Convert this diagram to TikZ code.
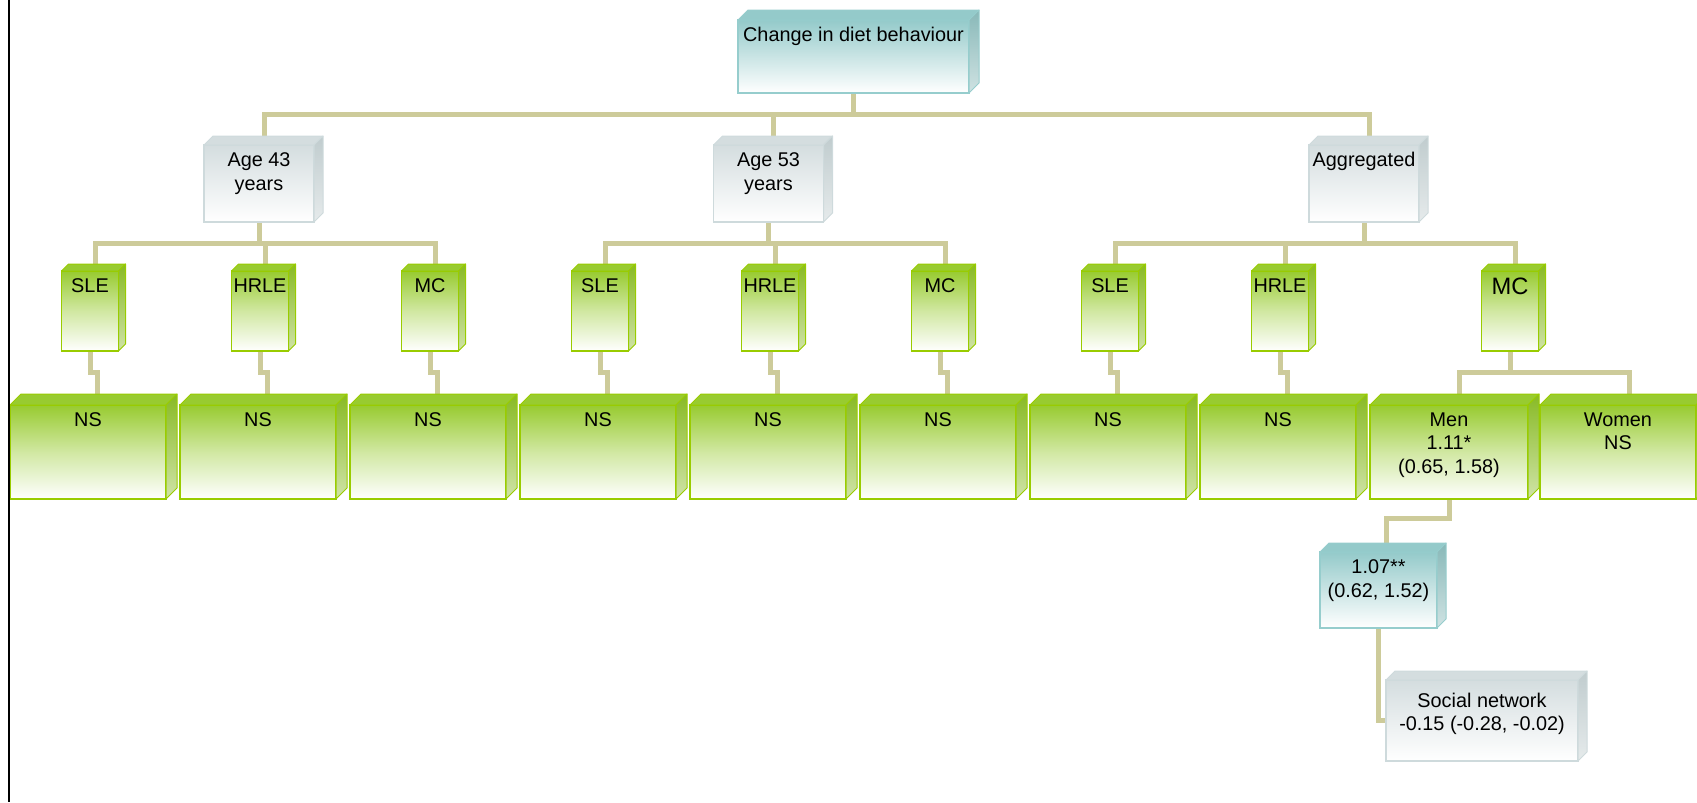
\documentclass[tikz,border=0pt]{standalone}
\usepackage{fontspec}
\setmainfont{Liberation Sans}
\usetikzlibrary{calc,backgrounds}

\definecolor{linktan}{RGB}{205,203,154}
\definecolor{edgeg}{RGB}{153,204,0}
\definecolor{fillg}{RGB}{152,203,48}
\definecolor{sideg}{RGB}{136,186,36}
\definecolor{edges}{RGB}{206,218,220}
\definecolor{fills}{RGB}{212,221,223}
\definecolor{sides}{RGB}{192,204,206}
\definecolor{edget}{RGB}{150,205,205}
\definecolor{fillt}{RGB}{148,202,202}
\definecolor{sidet}{RGB}{136,184,184}

\tikzset{
  box/.style 2 args={minimum width=#1*0.02cm, minimum height=#2*0.02cm, inner sep=0pt, outer sep=0pt, line width=0.035cm},
  greenbox/.style={draw=edgeg, top color=fillg, bottom color=white, middle color=fillg!45!white},
  greybox/.style={draw=edges, top color=fills, bottom color=white, middle color=fills!50!white},
  tealbox/.style={draw=edget, top color=fillt, bottom color=white, middle color=fillt!50!white},
  txt/.style={anchor=north, align=center, inner xsep=1pt, inner ysep=4pt, font=\fontsize{11.3}{13.6}\selectfont},
  link/.style={linktan, line width=0.1cm},
}

\begin{document}
\begin{tikzpicture}[x=0.02cm,y=-0.02cm]
  \useasboundingbox (0,0) rectangle (1697,802);

  % level 0 and 1
  \node[box={231}{73}, tealbox, label={[txt]north:Change in diet behaviour}] (change) at (853.5,56.5) {};
  \node[box={110}{77}, greybox, label={[txt]north:{Age 43\\years}}] (age43) at (259,183.5) {};
  \node[box={110}{77}, greybox, label={[txt]north:{Age 53\\years}}] (age53) at (768.5,183.5) {};
  \node[box={110}{77}, greybox, label={[txt]north:Aggregated}] (aggr) at (1364,183.5) {};

  % life events
  \foreach \nm/\x/\t in {sle1/90/SLE, hrle1/260/HRLE, mc1/430/MC, sle2/600/SLE, hrle2/770/HRLE, mc2/940/MC, sle3/1110/SLE, hrle3/1280/HRLE}
    \node[box={57}{80}, greenbox, label={[txt]north:\t}] (\nm) at (\x,311) {};
  \node[box={57}{80}, greenbox, label={[txt, font=\fontsize{13.5}{16}\selectfont]north:MC}] (mc3) at (1510,311) {};

  % results
  \foreach \i/\x in {1/88, 2/258, 3/428, 4/598, 5/768, 6/938, 7/1108, 8/1278}
    \node[box={156}{94}, greenbox, label={[txt]north:NS}] (ns\i) at (\x,452) {};
  \node[box={158}{94}, greenbox, label={[txt]north:{Men\\1.11*\\(0.65, 1.58)}}] (men) at (1449,452) {};
  \node[box={156}{94}, greenbox, label={[txt]north:{Women\\NS}}] (women) at (1618,452) {};
  \node[box={117}{76}, tealbox, label={[txt]north:{1.07**\\(0.62, 1.52)}}] (b107) at (1378.5,590) {};
  \node[box={192}{81}, greybox, label={[txt, yshift=-3pt]north:{Social network\\-0.15 (-0.28, -0.02)}}] (social) at (1482,720.5) {};

  % 3d edges
  \foreach \nm/\dep/\col in {change/10/t, b107/9/t, age43/9/s, age53/9/s, aggr/9/s, social/9/s,
      sle1/7/g, hrle1/7/g, mc1/7/g, sle2/7/g, hrle2/7/g, mc2/7/g, sle3/7/g, hrle3/7/g, mc3/7/g,
      ns1/11/g, ns2/11/g, ns3/11/g, ns4/11/g, ns5/11/g, ns6/11/g, ns7/11/g, ns8/11/g, men/11/g, women/11/g}{
    \filldraw[draw=edge\col, fill=fill\col, line width=0.02cm, line join=round]
      (\nm.north west) -- ++(\dep,-\dep) -- ($(\nm.north east)+(\dep,-\dep)$) -- (\nm.north east) -- cycle;
    \shadedraw[draw=edge\col, top color=side\col, bottom color=side\col!40!white, line width=0.02cm, line join=round]
      (\nm.north east) -- ++(\dep,-\dep) -- ($(\nm.south east)+(\dep,-\dep)$) -- (\nm.south east) -- cycle;
  }

  % connectors
  \begin{scope}[on background layer]
    \draw[link] (change.south) -- ++(0,21) coordinate (j0);
    \draw[link] ($(age43.north)+(5,0)$) |- (j0) -| ($(aggr.north)+(5,0)$);
    \draw[link] ($(age53.north)+(5,0)$) |- (j0);
    \foreach \g/\a/\b/\c in {age43/sle1/hrle1/mc1, age53/sle2/hrle2/mc2, aggr/sle3/hrle3/mc3}{
      \draw[link] (\g.south) -- ++(0,21) coordinate (j\g);
      \draw[link] ($(\a.north)+(5,0)$) |- (j\g) -| ($(\c.north)+(5,0)$);
      \draw[link] ($(\b.north)+(5,0)$) |- (j\g);
    }
    \foreach \s/\t in {sle1/ns1, hrle1/ns2, mc1/ns3, sle2/ns4, hrle2/ns5, mc2/ns6, sle3/ns7, hrle3/ns8}
      \draw[link] (\s.south) -- ++(0,21) -| ($(\t.north)+(9,0)$);
    \draw[link] (mc3.south) -- ++(0,21) coordinate (j4);
    \draw[link] ($(men.north)+(10,0)$) |- (j4) -| ($(women.north)+(11,0)$);
    \draw[link] (men.south) -- ++(0,19) -| ($(b107.north)+(8,0)$);
    \draw[link] (b107.south) |- (social.west);
  \end{scope}

  \draw[line width=0.05cm] (9,0) -- (9,802);
\end{tikzpicture}
\end{document}
